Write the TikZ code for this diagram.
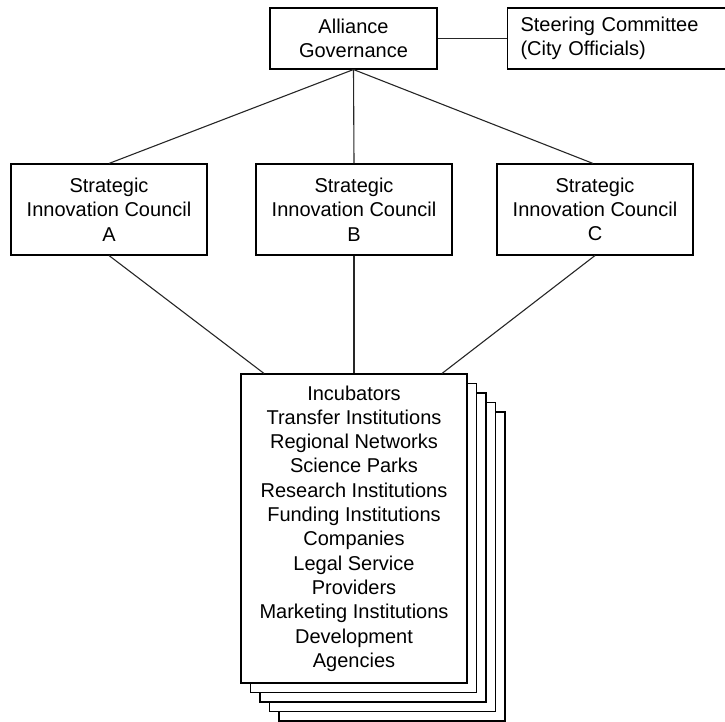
\documentclass[tikz,border=0pt]{standalone}
\usepackage{fontspec}
\setmainfont{Liberation Sans}
\begin{document}
\begin{tikzpicture}[x=1pt,y=-1pt,
  every node/.style={font=\fontsize{20}{24.3}\selectfont},
  box/.style={draw=black, line width=1.1pt, fill=white, rectangle, inner sep=0pt, align=center},
  council/.style={box, minimum width=196pt, minimum height=91pt},
  sheet/.style={box, minimum width=226pt, minimum height=309pt},
  link/.style={draw=black!85, line width=1.1pt}]
  \useasboundingbox (0,0) rectangle (725,722);

  % top level
  \node[box, minimum width=167pt, minimum height=61pt] (gov) at (353.5,38.5) {Alliance\\Governance};
  \node[box, anchor=west, minimum height=61pt, text width=215pt, align=left,
        inner xsep=13pt] (steer) at (507,38.5) {Steering Committee\\(City Officials)};

  % councils
  \node[council] (sa) at (109,209.5) {Strategic\\Innovation Council\\A};
  \node[council] (sb) at (354,209.5) {Strategic\\Innovation Council\\B};
  \node[council] (sc) at (595,209.5) {Strategic\\Innovation Council\\C};

  % stacked sheets behind the member list
  \node[sheet] (s4) at (392,566.5) {};
  \node[sheet] (s3) at (382.5,557) {};
  \node[sheet] (s2) at (373,547.5) {};
  \node[sheet] (s1) at (363.5,538) {};
  \node[sheet] (members) at (354,528.5) {Incubators\\Transfer Institutions\\Regional Networks\\Science Parks\\Research Institutions\\Funding Institutions\\Companies\\Legal Service\\Providers\\Marketing Institutions\\Development\\Agencies};

  % connectors
  \draw[link] (gov.east) -- (steer.west);
  \draw[link] (gov.south) -- (sa.north);
  \draw[link] (gov.south) -- (sb.north);
  \draw[link] (gov.south) -- ([xshift=-2pt]sc.north);
  \draw[link] (sa.south) -- ([xshift=-90pt]members.north);
  \draw[link] (sb.south) -- (members.north);
  \draw[link] (sc.south) -- ([xshift=88pt]members.north);
\end{tikzpicture}
\end{document}
